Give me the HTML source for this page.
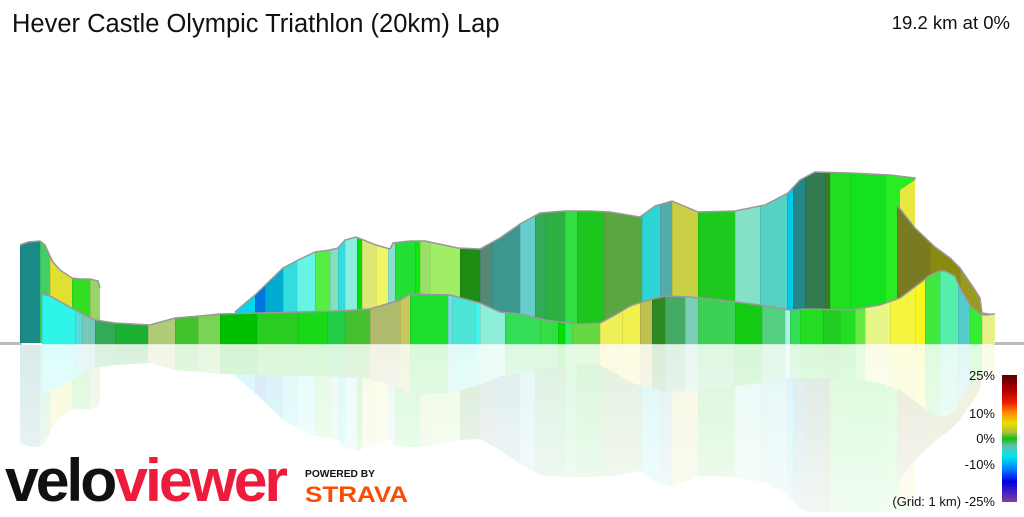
<!DOCTYPE html>
<html><head><meta charset="utf-8"><style>
body{margin:0;background:#fff;width:1024px;height:512px;overflow:hidden;font-family:"Liberation Sans",sans-serif}
</style></head><body>
<svg id="s" width="1024" height="512" xmlns="http://www.w3.org/2000/svg">
<defs>
<linearGradient id="cb" x1="0" y1="0" x2="0" y2="1">
<stop offset="0" stop-color="#5a0000"/><stop offset="0.12" stop-color="#b00000"/><stop offset="0.22" stop-color="#f02000"/><stop offset="0.3" stop-color="#ff9000"/><stop offset="0.38" stop-color="#e8e000"/><stop offset="0.45" stop-color="#b0c040"/><stop offset="0.5" stop-color="#10c010"/><stop offset="0.56" stop-color="#60c0b0"/><stop offset="0.64" stop-color="#00e8e8"/><stop offset="0.74" stop-color="#0080ff"/><stop offset="0.84" stop-color="#0000e0"/><stop offset="1" stop-color="#8040a0"/>
</linearGradient>
<linearGradient id="fade" x1="0" y1="0" x2="0" y2="1">
<stop offset="0" stop-color="#fff" stop-opacity="0.45"/><stop offset="1" stop-color="#fff" stop-opacity="0.8"/>
</linearGradient>
</defs>
<rect x="0" y="342" width="22" height="3" fill="#bbb"/>
<rect x="994" y="342" width="30" height="3" fill="#bbb"/>
<g id="refl" transform="translate(0,688) scale(1,-1)" opacity="0.3"></g>
<rect x="0" y="345" width="1000" height="167" fill="url(#fade)"/>
<g id="main"></g>
<text x="12" y="32" font-size="25.5" fill="#111">Hever Castle Olympic Triathlon (20km) Lap</text>
<text x="1010" y="29" font-size="18.5" fill="#111" text-anchor="end">19.2 km at 0%</text>
<rect x="1002" y="375" width="15" height="127" fill="url(#cb)"/>
<g font-size="13" fill="#111" text-anchor="end">
<text x="995" y="380">25%</text><text x="995" y="418">10%</text><text x="995" y="443">0%</text><text x="995" y="469">-10%</text><text x="995" y="506">(Grid: 1 km) -25%</text>
</g>
<text x="5" y="501" font-size="60" font-weight="bold" textLength="280" lengthAdjust="spacingAndGlyphs" letter-spacing="-3"><tspan fill="#111">velo</tspan><tspan fill="#ee1c3c">viewer</tspan></text>
<text x="305" y="477" font-size="10.5" font-weight="bold" fill="#111" textLength="70" lengthAdjust="spacingAndGlyphs">POWERED BY</text>
<text x="305" y="502" font-size="22" font-weight="bold" fill="#fc4c02" textLength="103" lengthAdjust="spacingAndGlyphs">STRAVA</text>
</svg>
<script>
var NS="http://www.w3.org/2000/svg";
var backTop=[[20,245],[28,242],[40,241],[45,245],[50,256],[53,262],[60,270],[72,278],[80,279],[90,279],[98,281],[100,288],[100,343]];
var backTop2=[[235,312],[255,295],[283,268],[298,260],[315,252],[330,250],[338,248],[345,240],[356,237],[376,245],[390,249],[393,243],[410,241],[425,241],[458,248],[480,249],[500,238],[520,224],[540,213],[565,211],[590,211],[610,212],[640,217],[655,206],[672,201],[698,212],[735,211],[765,205],[788,193],[800,180],[815,172],[850,173],[890,175],[915,178],[912,190],[900,205],[898,343]];
var olive=[[897,205],[915,228],[935,247],[950,258],[960,268],[975,290],[980,298],[982,313],[995,315],[995,343],[897,343]];
var front=[[42,294],[50,296],[75,310],[95,320],[115,323],[150,325],[175,318],[200,316],[220,314],[260,313],[300,312],[340,311],[370,309],[400,300],[410,294],[450,295],[480,303],[500,312],[520,314],[545,320],[560,322],[580,324],[600,323],[615,315],[630,306],[645,301],[665,296],[690,297],[720,300],[760,305],[790,310],[810,309],[850,310],[880,305],[900,298],[920,283],[930,275],[940,271],[945,271],[955,276],[960,288],[970,305],[980,314],[985,315],[995,314],[995,344],[42,344]];
var bB=[[20,40,"#1a8a86"],[40,50,"#44cc66"],[50,72,"#dfe030"],[72,90,"#33dd22"],[90,101,"#99d466"],
[230,255,"#00d8f0"],[255,265,"#0077e0"],[265,283,"#00aad0"],[283,297,"#33dddd"],[297,315,"#66f5e5"],[315,330,"#55ee44"],[330,338,"#88ddbb"],[338,345,"#33dddd"],[345,357,"#88eedd"],[357,362,"#00dd00"],[362,376,"#dde877"],[376,388,"#eef566"],[388,395,"#88e0cc"],[395,415,"#22e033"],[415,420,"#11e811"],[420,430,"#99e066"],[430,460,"#a0ee66"],[460,480,"#1d8c13"],[480,492,"#558877"],[492,520,"#3a9890"],[520,535,"#66cccc"],[535,545,"#33aa55"],[545,565,"#2daf44"],[565,577,"#33dd44"],[577,604,"#1cc41c"],[604,642,"#5aa640"],[642,660,"#2dd5d5"],[660,672,"#55aaaa"],[672,698,"#cad044"],[698,735,"#1cc91c"],[735,760,"#84e1c5"],[760,787,"#55d2c4"],[787,793,"#00c8e8"],[793,805,"#228888"],[805,825,"#347a50"],[825,830,"#3a7a22"],[830,850,"#22dd22"],[850,885,"#15e21e"],[885,916,"#2aec22"]];
var fB=[[42,75,"#2ef5e8"],[75,82,"#55dddd"],[82,95,"#77c8b8"],[95,115,"#33aa55"],[115,148,"#1cb030"],[148,175,"#b0cc77"],[175,198,"#44c22e"],[198,220,"#77d455"],[220,257,"#00bf00"],[257,298,"#2acc22"],[298,327,"#18d818"],[327,345,"#22cc44"],[345,370,"#44c030"],[370,400,"#b0ba6c"],[400,410,"#c8c860"],[410,448,"#1de02d"],[448,452,"#77dddd"],[452,475,"#4de5d8"],[475,480,"#44f5ee"],[480,505,"#8eefd8"],[505,540,"#33dd55"],[540,558,"#33dd44"],[558,565,"#00dd00"],[565,572,"#33ee66"],[572,600,"#66d844"],[600,622,"#eef055"],[622,640,"#f0f050"],[640,652,"#c0c050"],[652,665,"#2d8a22"],[665,685,"#44aa66"],[685,698,"#7dccb5"],[698,735,"#3cd055"],[735,762,"#15cc15"],[762,785,"#55d080"],[785,790,"#aaeeee"],[790,800,"#33dd55"],[800,823,"#22dd22"],[823,840,"#22cc22"],[840,855,"#22dd22"],[855,865,"#66e844"],[865,890,"#e5f588"],[890,915,"#f5f540"],[915,925,"#f8f820"],[925,940,"#3ee83e"],[940,958,"#55eeaa"],[958,970,"#55cccc"],[970,982,"#33ee33"],[982,996,"#e8f088"]];
var id=0;
function ribbon(g,pts,bands,stroke,closeTo){
  id++;
  var p=pts.slice();
  if(closeTo)p.push([pts[0][0],343]);
  var d="M"+p.map(function(q){return q.join(",")}).join("L")+"Z";
  var cp=document.createElementNS(NS,"clipPath");cp.setAttribute("id","c"+g.id+id);
  var pa=document.createElementNS(NS,"path");pa.setAttribute("d",d);cp.appendChild(pa);
  document.querySelector("defs").appendChild(cp);
  var gg=document.createElementNS(NS,"g");gg.setAttribute("clip-path","url(#c"+g.id+id+")");
  bands.forEach(function(b){var r=document.createElementNS(NS,"rect");r.setAttribute("x",b[0]);r.setAttribute("y",150);r.setAttribute("width",b[1]-b[0]+0.5);r.setAttribute("height",200);r.setAttribute("fill",b[2]);gg.appendChild(r);
    var l=document.createElementNS(NS,"rect");l.setAttribute("x",b[0]);l.setAttribute("y",150);l.setAttribute("width",0.6);l.setAttribute("height",200);l.setAttribute("fill","rgba(0,0,0,0.12)");gg.appendChild(l);});
  g.appendChild(gg);
  if(stroke){var s=document.createElementNS(NS,"polyline");
    var top=pts.filter(function(q){return q[1]<343});
    s.setAttribute("points",top.map(function(q){return q.join(",")}).join(" "));
    s.setAttribute("fill","none");s.setAttribute("stroke",stroke);s.setAttribute("stroke-width","1.5");g.appendChild(s);}
}
function draw(g,st){
  ribbon(g,backTop,bB,st,true);
  ribbon(g,backTop2,bB,st,true);
  ribbon(g,[[900,190],[915,180],[915,343],[900,343]],[[898,916,"#e8e840"]],null,false);
  ribbon(g,olive,[[897,930,"#7a7a22"],[930,960,"#8a8a10"],[960,996,"#9a9a20"]],st,false);
  ribbon(g,front,fB,st,false);
}
draw(document.getElementById("main"),"#999");
draw(document.getElementById("refl"),null);
</script>
</body></html>
